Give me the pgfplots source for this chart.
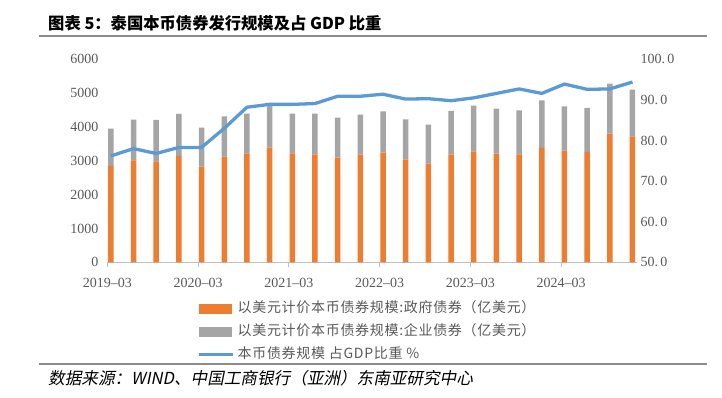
\documentclass[border=0pt]{standalone}
\usepackage{fontspec}
\setmainfont{Liberation Serif}
\newfontfamily\cjk{Noto Sans CJK SC}
\newfontfamily\cjklg[LetterSpace=5]{Noto Sans CJK SC}
\newfontfamily\cjkit[FakeSlant=0.2]{Noto Sans CJK SC}
\usepackage{pgfplots}
\usepackage{pgfplotstable}
\pgfplotsset{compat=1.18}
\definecolor{orng}{HTML}{ED7D31}
\definecolor{gry}{HTML}{A5A5A5}
\definecolor{blu}{HTML}{5B9BD5}
\definecolor{lbl}{HTML}{595959}
\definecolor{rulec}{HTML}{8C8C8C}
\definecolor{axc}{HTML}{BFBFBF}

\pgfplotstableread{
i gov corp ratio
0 2847 1104 76.2
1 3015 1202 78.0
2 2985 1222 76.8
3 3143 1241 78.3
4 2828 1152 78.3
5 3123 1192 83.0
6 3222 1172 88.2
7 3389 1261 88.9
8 3222 1172 88.9
9 3192 1202 89.1
10 3094 1182 90.9
11 3182 1183 90.9
12 3241 1222 91.4
13 3034 1193 90.2
14 2916 1153 90.3
15 3182 1291 89.8
16 3281 1350 90.5
17 3212 1330 91.6
18 3192 1301 92.7
19 3379 1409 91.6
20 3310 1301 93.9
21 3261 1301 92.6
22 3803 1478 92.7
23 3724 1379 94.4
}\data

\begin{document}
\begin{tikzpicture}
\path[use as bounding box] (0pt,0pt) rectangle (722pt,398pt);
\node[anchor=west, inner sep=0pt] at (48pt,375pt) {\cjk\bfseries\fontsize{16.3}{19}\selectfont 图表 5：泰国本币债券发行规模及占 GDP 比重};
\draw[rulec, line width=2pt] (39pt,362pt) -- (707pt,362pt);
\draw[rulec, line width=2pt] (39pt,34pt) -- (707pt,34pt);
\node[anchor=west, inner sep=0pt] at (48pt,20pt) {\cjkit\fontsize{16.6}{19}\selectfont 数据来源：WIND、中国工商银行（亚洲）东南亚研究中心};

\begin{axis}[
 at={(107pt,135.7pt)}, anchor=south west, scale only axis,
 width=530pt, height=203pt,
 xmin=-0.17, xmax=23.2, ymin=0, ymax=6000,
 ybar stacked, bar width=5.5pt,
 axis x line*=bottom, axis y line*=left,
 x axis line style={draw=axc, line width=0.8pt},
 y axis line style={draw=none},
 xtick={-0.15,3.85,7.85,11.85,15.85,19.85},
 xticklabels={2019\textendash03,2020\textendash03,2021\textendash03,2022\textendash03,2023\textendash03,2024\textendash03},
 ytick={0,1000,2000,3000,4000,5000,6000},
 tick align=outside, major tick length=5pt,
 xtick style={draw=axc, line width=0.8pt}, ytick style={draw=none},
 tick label style={font=\fontsize{14}{16}\selectfont, text=lbl},
 xticklabel style={yshift=-7pt},
 /pgf/number format/assume math mode=true,
 /pgf/number format/1000 sep={},
 clip=false,
]
\addplot[fill=orng, draw=none] table[x=i,y=gov]{\data};
\addplot[fill=gry, draw=none] table[x=i,y=corp]{\data};
\end{axis}

\begin{axis}[
 at={(107pt,135.7pt)}, anchor=south west, scale only axis,
 width=530pt, height=203pt,
 xmin=-0.17, xmax=23.2, ymin=50, ymax=100,
 axis y line*=right, axis x line=none,
 y axis line style={draw=none}, ytick style={draw=none},
 ytick={50,60,70,80,90,100},
 yticklabels={50.\,0,60.\,0,70.\,0,80.\,0,90.\,0,100.\,0},
 tick label style={font=\fontsize{14}{16}\selectfont, text=lbl},
 clip=false,
 legend style={at={(axis description cs:0.17,-0.195)}, anchor=north west,
   draw=none, fill=none, inner sep=0pt, row sep=10pt, column sep=0pt,
   font=\cjklg\fontsize{14}{16}\selectfont, text=lbl,
   nodes={text height=10pt, text depth=3pt, inner ysep=0pt, inner xsep=3pt}},
 legend cell align=left,
]
\addlegendimage{legend image code/.code={\fill[orng] (0pt,-4.5pt) rectangle (32pt,4.5pt);}}
\addlegendentry{以美元计价本币债券规模:政府债券（亿美元）}
\addlegendimage{legend image code/.code={\fill[gry] (0pt,-4.5pt) rectangle (32pt,4.5pt);}}
\addlegendentry{以美元计价本币债券规模:企业债券（亿美元）}
\addplot[blu, line width=3.3pt, no markers,
  legend image code/.code={\draw[blu, line width=3.3pt] (0pt,0pt) -- (34pt,0pt);}]
  table[x=i,y=ratio]{\data};
\addlegendentry{本币债券规模 占GDP比重 \%}
\end{axis}
\end{tikzpicture}
\end{document}
